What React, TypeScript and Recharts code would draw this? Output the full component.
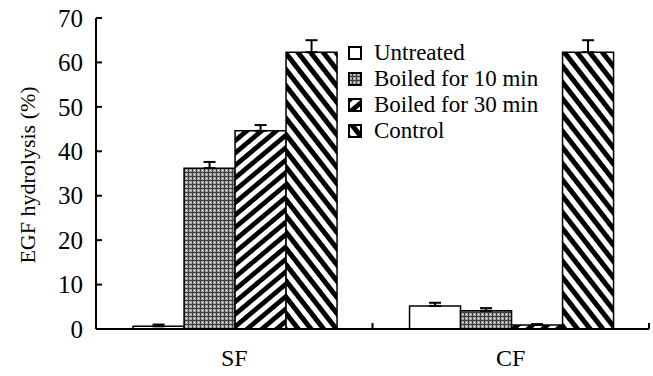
import { Bar, BarChart, ErrorBar, Label, XAxis, YAxis } from "recharts";

const categories = ["SF", "CF"];
const untreated = [0.6, 5.2];
const untreatedErr = [0.4, 0.7];
const boiled10 = [36.2, 4.1];
const boiled10Err = [1.4, 0.6];
const boiled30 = [44.6, 0.9];
const boiled30Err = [1.3, 0.2];
const control = [62.3, 62.3];
const controlErr = [2.7, 2.7];
const yTicks = [0, 10, 20, 30, 40, 50, 60, 70];

const data = categories.map((name, i) => ({
  name,
  untreated: untreated[i],
  untreatedErr: [0, untreatedErr[i]],
  boiled10: boiled10[i],
  boiled10Err: [0, boiled10Err[i]],
  boiled30: boiled30[i],
  boiled30Err: [0, boiled30Err[i]],
  control: control[i],
  controlErr: [0, controlErr[i]],
}));

const series = [
  { key: "untreated", label: "Untreated", fill: "#fff" },
  { key: "boiled10", label: "Boiled for 10 min", fill: "url(#checker)" },
  { key: "boiled30", label: "Boiled for 30 min", fill: "url(#stripeUp)" },
  { key: "control", label: "Control", fill: "url(#stripeDown)" },
];

const WIDTH = 653;
const HEIGHT = 376;
const MARGIN = { top: 18, right: 4, bottom: 0, left: 0 };
const Y_AXIS_WIDTH = 96;
const X_AXIS_HEIGHT = 47;
const HALF_BAND = (WIDTH - MARGIN.left - MARGIN.right - Y_AXIS_WIDTH) / categories.length / 2;
const FONT = "'Liberation Serif', 'Times New Roman', Times, serif";

const XTick = (props: any) => {
  const { x, y, payload } = props;
  return (
    <g>
      <text x={x} y={y + 37} textAnchor="middle" style={{ fontFamily: FONT }} fontSize={24} fill="#000">
        {payload.value}
      </text>
      <line x1={x + HALF_BAND} x2={x + HALF_BAND} y1={y} y2={y - 6} stroke="#000" strokeWidth={2} />
    </g>
  );
};

const YTick = (props: any) => {
  const { x, y, payload } = props;
  return (
    <g>
      <line x1={x} x2={x + 6} y1={y} y2={y} stroke="#000" strokeWidth={2} />
      <text x={x - 13} y={y} dy="0.35em" textAnchor="end" style={{ fontFamily: FONT }} fontSize={25} fill="#000">
        {payload.value}
      </text>
    </g>
  );
};

// legend sits over the empty area between the two groups
const LegendBox = () => (
  <div
    style={{
      position: "absolute",
      left: 348,
      top: 40,
      fontFamily: FONT,
      fontSize: 23,
      lineHeight: "26px",
      color: "#000",
    }}
  >
    {series.map((s) => (
      <div key={s.key} style={{ display: "flex", alignItems: "center", height: 26 }}>
        <svg width={14} height={14} style={{ marginRight: 12 }}>
          <rect x={1} y={1} width={12} height={12} fill={s.fill} stroke="#000" strokeWidth={2} />
        </svg>
        <span>{s.label}</span>
      </div>
    ))}
  </div>
);

export default function App() {
  return (
    <div style={{ position: "absolute", left: 0, top: 0, width: WIDTH, height: HEIGHT, background: "#fff" }}>
      <BarChart
        width={WIDTH}
        height={HEIGHT}
        data={data}
        margin={MARGIN}
        barCategoryGap="13.4%"
        barGap={0}
      >
        <defs>
          <pattern id="checker" width={4} height={4} patternUnits="userSpaceOnUse">
            <rect width={4} height={4} fill="#a0a0a0" />
            <rect width={4} height={1} fill="#404040" />
            <rect width={1} height={4} fill="#404040" />
            <rect x={2} y={2} width={1} height={1} fill="#fff" />
          </pattern>
          <pattern id="stripeUp" width={9.5} height={9.5} patternUnits="userSpaceOnUse" patternTransform="rotate(50)">
            <rect width={9.5} height={9.5} fill="#fff" />
            <rect width={4.75} height={9.5} fill="#000" />
          </pattern>
          <pattern id="stripeDown" width={10} height={10} patternUnits="userSpaceOnUse" patternTransform="rotate(-38)">
            <rect width={10} height={10} fill="#fff" />
            <rect width={5} height={10} fill="#000" />
          </pattern>
        </defs>
        <XAxis
          dataKey="name"
          height={X_AXIS_HEIGHT}
          axisLine={{ stroke: "#000", strokeWidth: 2 }}
          tickLine={false}
          tickSize={0}
          tickMargin={0}
          tick={<XTick />}
        />
        <YAxis
          width={Y_AXIS_WIDTH}
          domain={[0, 70]}
          ticks={yTicks}
          interval={0}
          axisLine={{ stroke: "#000", strokeWidth: 2 }}
          tickLine={false}
          tickSize={0}
          tickMargin={0}
          tick={<YTick />}
        >
          <Label
            content={() => (
              <text
                transform="translate(35,175) rotate(-90)"
                textAnchor="middle"
                style={{ fontFamily: FONT }}
                fontSize={22}
                fill="#000"
              >
                EGF hydrolysis (%)
              </text>
            )}
          />
        </YAxis>
        {series.map((s) => (
          <Bar
            key={s.key}
            dataKey={s.key}
            name={s.label}
            fill={s.fill}
            stroke="#000"
            strokeWidth={1.5}
            isAnimationActive={false}
          >
            <ErrorBar dataKey={`${s.key}Err`} width={6} stroke="#000" strokeWidth={2} direction="y" />
          </Bar>
        ))}
      </BarChart>
      <LegendBox />
    </div>
  );
}
